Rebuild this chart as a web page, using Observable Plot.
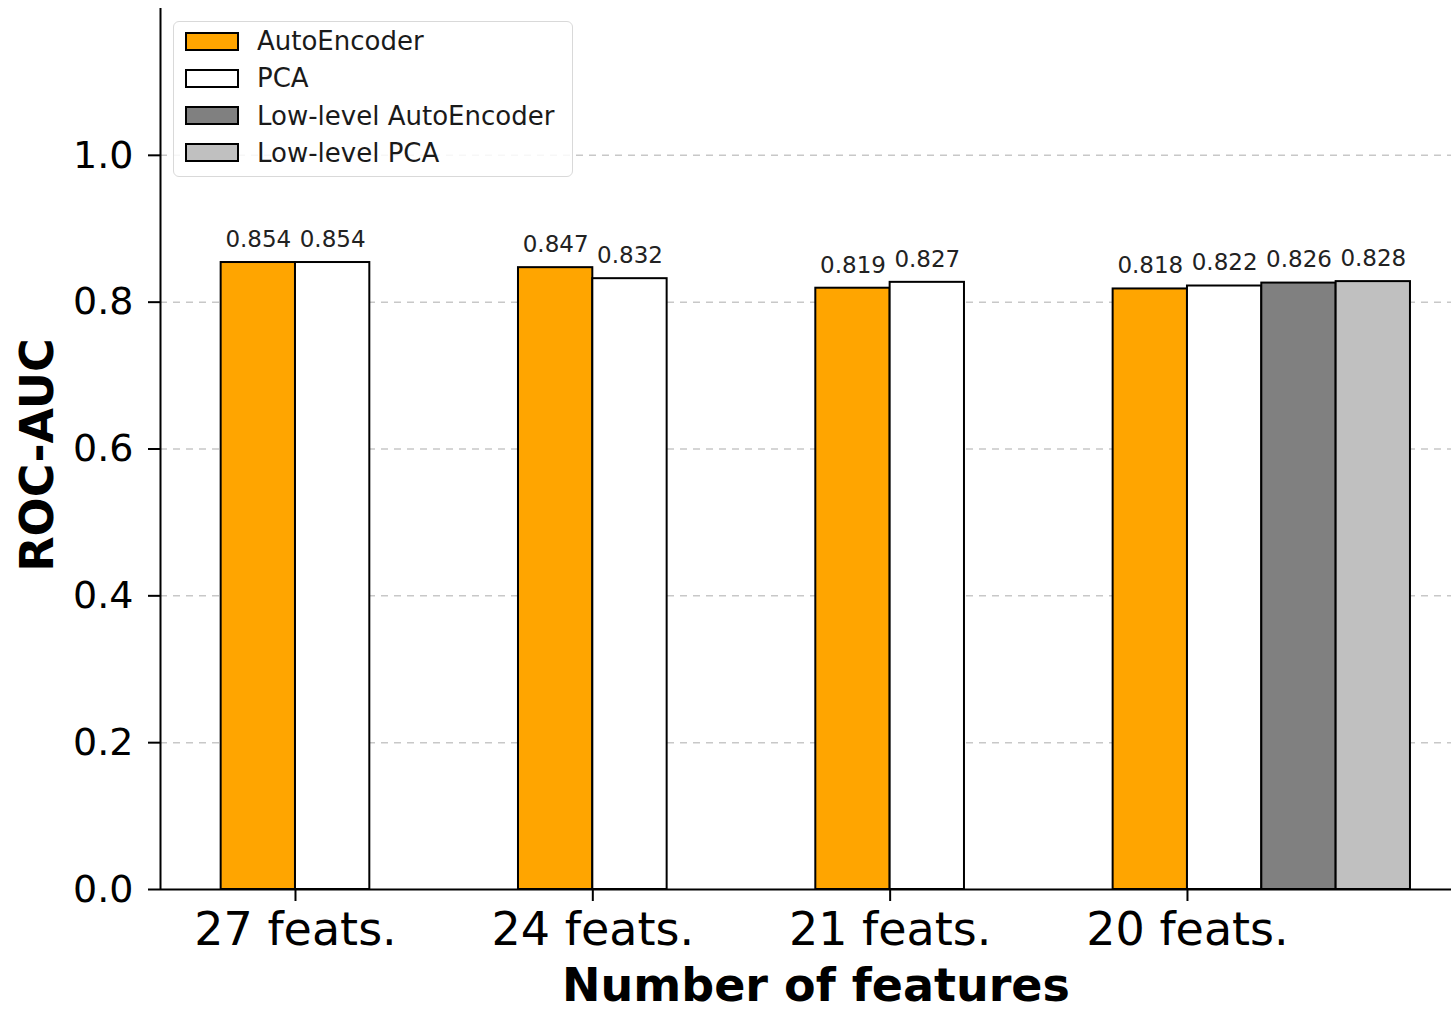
<!DOCTYPE html>
<html>
<head>
<meta charset="utf-8">
<script src="https://cdn.jsdelivr.net/npm/d3@7"></script>
<script src="https://cdn.jsdelivr.net/npm/@observablehq/plot@0.6"></script>
<style>
  html, body { margin: 0; padding: 0; background: #fff; }
  #wrap { position: relative; width: 1451px; height: 1010px; font-family: "DejaVu Sans", sans-serif; }
  .legend {
    position: absolute; left: 173px; top: 21px; width: 400px; height: 156px;
    border: 1.5px solid #d9d9d9; border-radius: 6px; background: rgba(255,255,255,0.85);
    box-sizing: border-box;
  }
  .legend .item { position: absolute; left: 11px; height: 30px; display: flex; align-items: center; }
  .legend .sw { width: 50px; height: 15px; border: 2.5px solid #000; box-sizing: content-box; }
  .legend .lab { margin-left: 18px; font-size: 26px; color: #1a1a1a; white-space: nowrap; }
</style>
</head>
<body>
<div id="wrap"></div>
<script>
// Feature-set groups along the x axis
const groups = ["27 feats.", "24 feats.", "21 feats.", "20 feats."];

// Methods (series) and their bar fills
const methods = ["AutoEncoder", "PCA", "Low-level AutoEncoder", "Low-level PCA"];
const fills = ["#ffa500", "#ffffff", "#808080", "#c0c0c0"];

// ROC-AUC per group for each method (low-level variants only for 20 feats.)
const autoEncoder = [0.854, 0.847, 0.819, 0.818];
const pca = [0.854, 0.832, 0.827, 0.822];
const lowLevelAutoEncoder = [null, null, null, 0.826];
const lowLevelPca = [null, null, null, 0.828];

// Axis ticks
const yTicks = [0, 0.2, 0.4, 0.6, 0.8, 1.0];
const gridTicks = [0.2, 0.4, 0.6, 0.8, 1.0];

const barWidth = 0.25;
const series = [autoEncoder, pca, lowLevelAutoEncoder, lowLevelPca];
const rows = [];
series.forEach((vals, m) => {
  vals.forEach((v, g) => {
    if (v == null) return;
    const x1 = g + (m - 1) * barWidth;
    rows.push({group: g, method: m, value: v, x1, x2: x1 + barWidth, xc: x1 + barWidth / 2});
  });
});

const xDomain = [-0.454, 3.888];
const yDomain = [0, 1.2];

const chart = Plot.plot({
  width: 1451,
  height: 1010,
  marginLeft: 160,
  marginRight: 0,
  marginTop: 8,
  marginBottom: 121,
  style: {fontFamily: "DejaVu Sans, sans-serif", color: "#000", background: "#fff", overflow: "visible"},
  x: {type: "linear", domain: xDomain, axis: null},
  y: {domain: yDomain, axis: null},
  marks: [
    Plot.gridY(gridTicks, {stroke: "#c8c8c8", strokeOpacity: 1, strokeWidth: 1.5, strokeDasharray: "7,6"}),
    Plot.rectY(rows, {
      x1: "x1", x2: "x2", y1: 0, y2: "value",
      fill: d => fills[d.method], stroke: "#000", strokeWidth: 2, inset: 0
    }),
    Plot.text(rows, {
      x: "xc", y: "value", text: d => d.value.toFixed(3),
      dy: -23, lineAnchor: "middle", fontSize: 23, fill: "#222"
    }),
    Plot.ruleY([0], {stroke: "#000", strokeWidth: 2}),
    Plot.ruleX([xDomain[0]], {stroke: "#000", strokeWidth: 2}),
    Plot.axisY(yTicks, {
      tickFormat: d3.format(".1f"), tickSize: 12, tickPadding: 15,
      fontSize: 38, strokeWidth: 2, label: null
    }),
    Plot.axisX([0, 1, 2, 3], {
      tickFormat: i => groups[i], tickSize: 12, tickPadding: 11,
      fontSize: 46, strokeWidth: 2, label: null
    }),
    Plot.text(["ROC-AUC"], {
      frameAnchor: "left", rotate: -90, dx: -122, dy: 6,
      lineAnchor: "middle", textAnchor: "middle",
      fontSize: 46, fontWeight: "bold", fill: "#000"
    }),
    Plot.text(["Number of features"], {
      frameAnchor: "bottom", dx: 10, dy: 97,
      lineAnchor: "middle", textAnchor: "middle",
      fontSize: 46, fontWeight: "bold", fill: "#000"
    })
  ]
});

const wrap = document.getElementById("wrap");
wrap.appendChild(chart);

// Legend overlay in the upper-left of the plot area
const legend = document.createElement("div");
legend.className = "legend";
methods.forEach((name, i) => {
  const item = document.createElement("div");
  item.className = "item";
  item.style.top = (4 + i * 37.3) + "px";
  const sw = document.createElement("div");
  sw.className = "sw";
  sw.style.background = fills[i];
  const lab = document.createElement("span");
  lab.className = "lab";
  lab.textContent = name;
  item.appendChild(sw);
  item.appendChild(lab);
  legend.appendChild(item);
});
wrap.appendChild(legend);
</script>
</body>
</html>
